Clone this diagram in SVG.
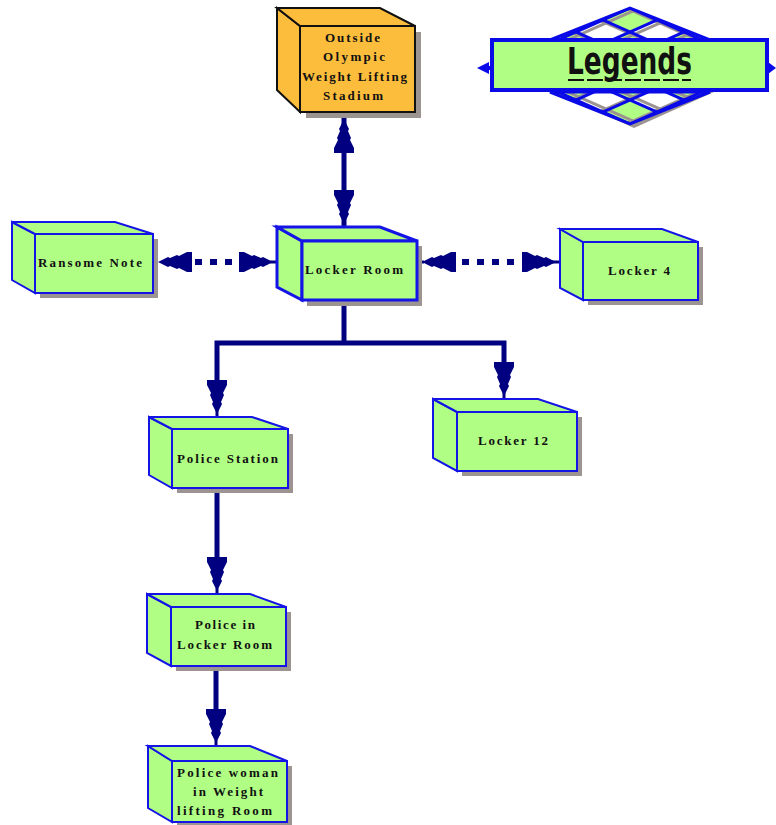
<svg xmlns="http://www.w3.org/2000/svg" xmlns:xlink="http://www.w3.org/1999/xlink" width="776" height="825" viewBox="0 0 776 825">
  <style>
    .shadow { fill: #9c9490; }
    .face { fill: #b0ff84; stroke: #1414e6; stroke-width: 2; stroke-linejoin: miter; }
    .face.bold { stroke-width: 3; }
    .face.orange { fill: #fdbd3c; stroke: #111; }
    .lbl { font-family: "Liberation Serif", "DejaVu Serif", serif; font-weight: bold; font-size: 13px; fill: #111; }
    .wire { stroke: #000080; stroke-width: 5; fill: none; stroke-linejoin: miter; stroke-linecap: butt; }
    .dash { stroke: #000080; stroke-width: 6; fill: none; stroke-dasharray: 7 8; }
    .head { fill: #000080; }
    .lat { stroke: #0a0ae8; stroke-width: 3; fill: none; }
    .latshade { stroke: #9c9490; stroke-width: 3; fill: none; }
    .cell { fill: #b0ff84; }
  </style>
  <defs>
    <!-- serrated arrowhead, tip at origin, pointing down -->
    <polygon id="ah" points="0,0 -2,-4 -5,-10 -4,-12 -7,-19 -6,-21 -10,-29 -10,-34 10,-34 10,-29 6,-21 7,-19 4,-12 5,-10 2,-4"/>
    <!-- lattice strokes of the banner -->
    <path id="ld" d="M540,-32 L720,48"/>
    <path id="lu" d="M720,-32 L540,48"/>
    <clipPath id="tri"><polygon points="550,40 630,8 710,40"/></clipPath>
    <g id="lattice">
      <polygon points="550,40 630,8 710,40" fill="#fff"/>
      <g clip-path="url(#tri)">
        <polygon class="cell" points="630,8 657,20 630,32 603,20"/>
        <polygon class="cell" points="576,32 603,44 576,56 549,44"/>
        <polygon class="cell" points="630,32 657,44 630,56 603,44"/>
        <polygon class="cell" points="684,32 711,44 684,56 657,44"/>
        <g class="latshade">
          <use xlink:href="#ld" transform="translate(3,3)"/>
          <use xlink:href="#ld" transform="translate(-24,15)"/>
          <use xlink:href="#ld" transform="translate(-51,27)"/>
          <use xlink:href="#lu" transform="translate(3,3)"/>
          <use xlink:href="#lu" transform="translate(30,15)"/>
          <use xlink:href="#lu" transform="translate(57,27)"/>
        </g>
        <g class="lat">
          <use xlink:href="#ld"/>
          <use xlink:href="#ld" transform="translate(-27,12)"/>
          <use xlink:href="#ld" transform="translate(-54,24)"/>
          <use xlink:href="#lu"/>
          <use xlink:href="#lu" transform="translate(27,12)"/>
          <use xlink:href="#lu" transform="translate(54,24)"/>
        </g>
      </g>
      <polygon class="lat" points="550,40 630,8 710,40"/>
    </g>
  </defs>

  <!-- Legend banner -->
  <g id="legend">
    <polygon points="554,92 634,128 714,92" class="shadow"/>
    <use xlink:href="#lattice"/>
    <use xlink:href="#lattice" transform="translate(0,132) scale(1,-1)"/>
    <polygon points="477,68 489,62 489,74" fill="#0a0ae8"/>
    <rect x="487" y="66" width="6" height="4" fill="#0a0ae8"/>
    <polygon points="776,68 768,62 768,74" fill="#0a0ae8"/>
    <rect x="492" y="40" width="275" height="50" fill="#b0ff84" stroke="#0a0ae8" stroke-width="4"/>
    <text x="567" y="74" font-family="DejaVu Sans, sans-serif" font-weight="bold" font-size="38" fill="#111" textLength="125" lengthAdjust="spacingAndGlyphs">Legends</text>
    <line x1="568" y1="80" x2="691" y2="80" stroke="#111" stroke-width="2" stroke-dasharray="16 3"/>
  </g>

  <!-- Connectors -->
  <g id="connectors">
    <line class="wire" x1="344" y1="118" x2="344" y2="227"/>
    <use xlink:href="#ah" class="head" transform="translate(344,119) rotate(180)"/>
    <use xlink:href="#ah" class="head" transform="translate(344,224)"/>

    <line class="dash" x1="195" y1="262" x2="240" y2="262"/>
    <use xlink:href="#ah" class="head" transform="translate(158,262) rotate(90)"/>
    <line class="wire" x1="270" y1="262" x2="277" y2="262" style="stroke-width:3"/>
    <use xlink:href="#ah" class="head" transform="translate(273,262) rotate(-90)"/>

    <line class="wire" x1="417" y1="262" x2="424" y2="262" style="stroke-width:3"/>
    <use xlink:href="#ah" class="head" transform="translate(422,262) rotate(90)"/>
    <line class="dash" x1="462" y1="262" x2="520" y2="262"/>
    <use xlink:href="#ah" class="head" transform="translate(556,262) rotate(-90)"/>
    <line class="wire" x1="552" y1="262" x2="560" y2="262" style="stroke-width:3"/>

    <path class="wire" d="M344,302 V343"/>
    <path class="wire" d="M217,385 V343 H504 V366"/>
    <line class="wire" x1="217" y1="410" x2="217" y2="417" style="stroke-width:3"/>
    <use xlink:href="#ah" class="head" transform="translate(217,414)"/>
    <line class="wire" x1="504" y1="392" x2="504" y2="399" style="stroke-width:3"/>
    <use xlink:href="#ah" class="head" transform="translate(504,396)"/>

    <path class="wire" d="M217,490 V560"/>
    <line class="wire" x1="217" y1="588" x2="217" y2="594" style="stroke-width:3"/>
    <use xlink:href="#ah" class="head" transform="translate(217,591)"/>

    <path class="wire" d="M216,668 V712"/>
    <line class="wire" x1="216" y1="740" x2="216" y2="746" style="stroke-width:3"/>
    <use xlink:href="#ah" class="head" transform="translate(216,743)"/>
  </g>

  <!-- Nodes -->
  <g id="outside-stadium">
    <rect class="shadow" x="306" y="32" width="115" height="86"/>
    <polygon class="face orange" points="277,8 300,26 300,112 277,90"/>
    <polygon class="face orange" points="277,8 380,8 415,26 300,26"/>
    <rect class="face orange" x="300" y="26" width="115" height="86"/>
    <text class="lbl" x="325" y="42" textLength="55">Outside</text>
    <text class="lbl" x="323" y="61" textLength="62">Olympic</text>
    <text class="lbl" x="302" y="81" textLength="105">Weight Lifting</text>
    <text class="lbl" x="323" y="100" textLength="60">Stadium</text>
  </g>

  <g id="ransome-note">
    <rect class="shadow" x="40" y="239" width="118" height="59"/>
    <polygon class="face" points="12,222 35,234 35,293 12,280"/>
    <polygon class="face" points="12,222 115,222 153,234 35,234"/>
    <rect class="face" x="35" y="234" width="118" height="59"/>
    <text class="lbl" x="38" y="267" textLength="104">Ransome Note</text>
  </g>

  <g id="locker-room">
    <rect class="shadow" x="307" y="246" width="115" height="60"/>
    <polygon class="face bold" points="277,227 302,241 302,300 277,287"/>
    <polygon class="face bold" points="277,227 380,227 417,241 302,241"/>
    <rect class="face bold" x="302" y="241" width="115" height="59"/>
    <text class="lbl" x="305" y="274" textLength="98">Locker Room</text>
  </g>

  <g id="locker-4">
    <rect class="shadow" x="588" y="247" width="115" height="58"/>
    <polygon class="face" points="560,229 583,242 583,300 560,288"/>
    <polygon class="face" points="560,229 662,229 698,242 583,242"/>
    <rect class="face" x="583" y="242" width="115" height="58"/>
    <text class="lbl" x="608" y="275" textLength="62">Locker 4</text>
  </g>

  <g id="police-station">
    <rect class="shadow" x="177" y="434" width="116" height="59"/>
    <polygon class="face" points="149,417 172,429 172,488 149,475"/>
    <polygon class="face" points="149,417 252,417 288,429 172,429"/>
    <rect class="face" x="172" y="429" width="116" height="59"/>
    <text class="lbl" x="177" y="463" textLength="101">Police Station</text>
  </g>

  <g id="locker-12">
    <rect class="shadow" x="462" y="417" width="120" height="59"/>
    <polygon class="face" points="433,399 457,412 457,471 433,458"/>
    <polygon class="face" points="433,399 538,399 577,412 457,412"/>
    <rect class="face" x="457" y="412" width="120" height="59"/>
    <text class="lbl" x="478" y="445" textLength="70">Locker 12</text>
  </g>

  <g id="police-in-locker-room">
    <rect class="shadow" x="176" y="612" width="115" height="59"/>
    <polygon class="face" points="147,594 171,607 171,666 147,653"/>
    <polygon class="face" points="147,594 250,594 286,607 171,607"/>
    <rect class="face" x="171" y="607" width="115" height="59"/>
    <text class="lbl" x="195" y="629" textLength="60">Police in</text>
    <text class="lbl" x="177" y="649" textLength="95">Locker Room</text>
  </g>

  <g id="policewoman-weightlifting-room">
    <rect class="shadow" x="177" y="766" width="115" height="61"/>
    <polygon class="face" points="148,746 172,761 172,822 148,808"/>
    <polygon class="face" points="148,746 250,746 287,761 172,761"/>
    <rect class="face" x="172" y="761" width="115" height="61"/>
    <text class="lbl" x="177" y="777" textLength="101">Police woman</text>
    <text class="lbl" x="193" y="796" textLength="70">in Weight</text>
    <text class="lbl" x="177" y="815" textLength="95">lifting Room</text>
  </g>
</svg>
